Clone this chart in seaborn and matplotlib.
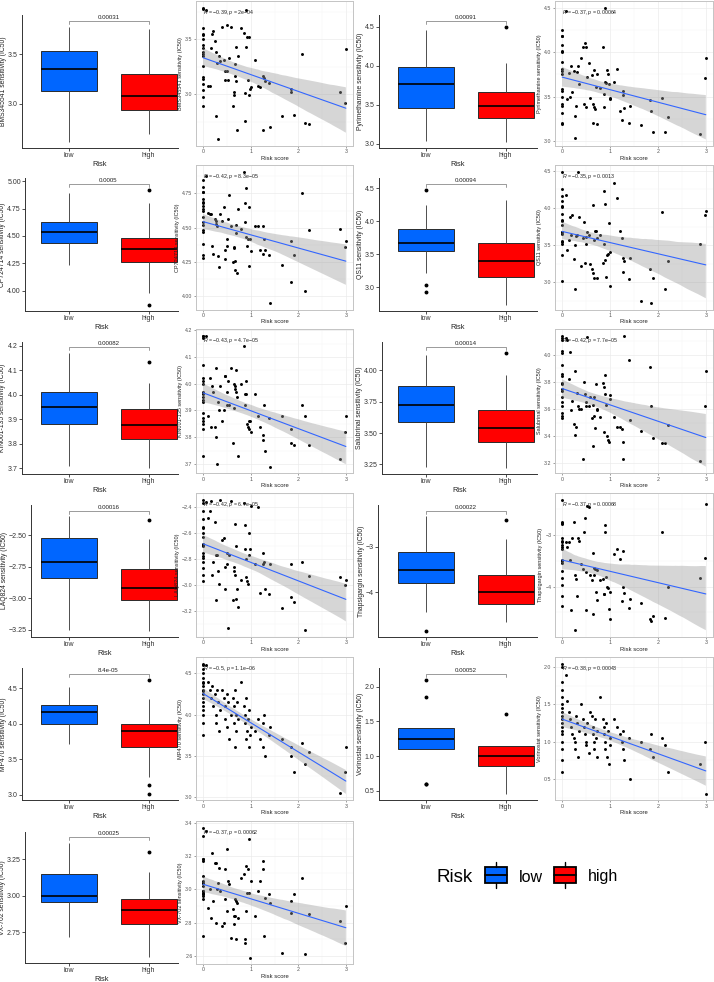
import numpy as np
import pandas as pd
import matplotlib
matplotlib.use("Agg")
import matplotlib.pyplot as plt
import seaborn as sns
from matplotlib.ticker import AutoMinorLocator
from matplotlib.patches import Rectangle
from matplotlib.collections import PolyCollection

sns.set_theme(style="white")
plt.rcParams["font.family"] = ["Liberation Sans", "DejaVu Sans"]
plt.rcParams["mathtext.fontset"] = "custom"
plt.rcParams["mathtext.rm"] = "Liberation Sans"
plt.rcParams["mathtext.it"] = "Liberation Sans:italic"

# ---------------- data ----------------
drugs = ["BMS345541", "Pyrimethamine", "CP724714", "QS11", "KIN001-135", "Salubrinal",
         "LAQ824", "Thapsigargin", "MP470", "Vorinostat", "VX-702"]
box_pvals = ["0.00031", "0.00091", "0.0005", "0.00094", "0.00082", "0.00014",
             "0.00016", "0.00022", "8.4e-05", "0.00052", "0.00025"]
cor_r = ["-0.39", "-0.37", "-0.42", "-0.35", "-0.43", "-0.42", "-0.42", "-0.37", "-0.5", "-0.38", "-0.37"]
cor_p = ["2e-04", "0.00064", "8.3e-05", "0.0013", "4.7e-05", "7.7e-05", "6.7e-05", "0.00068",
         "1.1e-06", "0.00043", "0.00062"]

# box summaries: (lower whisker, Q1, median, Q3, upper whisker) and outliers
low_box = {
    "BMS345541": (2.61, 3.13, 3.35, 3.53, 3.78),
    "Pyrimethamine": (3.03, 3.46, 3.77, 3.98, 4.46),
    "CP724714": (4.24, 4.44, 4.54, 4.63, 4.89),
    "QS11": (3.215, 3.54, 3.665, 3.875, 4.25),
    "KIN001-135": (3.71, 3.88, 3.95, 4.01, 4.17),
    "Salubrinal": (3.23, 3.59, 3.72, 3.87, 4.12),
    "LAQ824": (-3.25, -2.84, -2.71, -2.52, -2.35),
    "Thapsigargin": (-4.43, -3.79, -3.50, -3.11, -2.33),
    "MP470": (3.72, 4.00, 4.17, 4.26, 4.51),
    "Vorinostat": (0.60, 1.10, 1.25, 1.40, 1.85),
    "VX-702": (2.72, 2.96, 3.00, 3.15, 3.36),
}
low_out = {
    "QS11": [2.925, 3.025, 4.475],
    "Thapsigargin": [-4.86],
    "Vorinostat": [2.10],
}
high_box = {
    "BMS345541": (2.69, 2.94, 3.08, 3.30, 3.76),
    "Pyrimethamine": (3.02, 3.33, 3.48, 3.66, 4.04),
    "CP724714": (3.98, 4.26, 4.38, 4.48, 4.80),
    "QS11": (2.725, 3.15, 3.39, 3.675, 4.325),
    "KIN001-135": (3.70, 3.82, 3.875, 3.94, 4.05),
    "Salubrinal": (3.22, 3.43, 3.54, 3.68, 3.96),
    "LAQ824": (-3.26, -3.01, -2.92, -2.77, -2.53),
    "Thapsigargin": (-4.66, -4.26, -3.99, -3.62, -2.83),
    "MP470": (3.25, 3.68, 3.90, 4.00, 4.35),
    "Vorinostat": (0.45, 0.85, 1.00, 1.15, 1.60),
    "VX-702": (2.58, 2.81, 2.905, 2.98, 3.165),
}
high_out = {
    "Pyrimethamine": [4.50],
    "CP724714": [3.87, 4.92],
    "KIN001-135": [4.135],
    "Salubrinal": [4.135],
    "LAQ824": [-2.38],
    "Thapsigargin": [-2.41],
    "MP470": [3.01, 3.14, 4.62],
    "VX-702": [3.30],
}

box_yticks = {
    "BMS345541": ["3.0", "3.5"],
    "Pyrimethamine": ["3.0", "3.5", "4.0", "4.5"],
    "CP724714": ["4.00", "4.25", "4.50", "4.75", "5.00"],
    "QS11": ["3.0", "3.5", "4.0", "4.5"],
    "KIN001-135": ["3.7", "3.8", "3.9", "4.0", "4.1", "4.2"],
    "Salubrinal": ["3.25", "3.50", "3.75", "4.00"],
    "LAQ824": ["-3.25", "-3.00", "-2.75", "-2.50"],
    "Thapsigargin": ["-4", "-3"],
    "MP470": ["3.0", "3.5", "4.0", "4.5"],
    "Vorinostat": ["0.5", "1.0", "1.5", "2.0"],
    "VX-702": ["2.75", "3.00", "3.25"],
}
scatter_yticks = {
    "BMS345541": ["3.0", "3.5"],
    "Pyrimethamine": ["3.0", "3.5", "4.0", "4.5"],
    "CP724714": ["4.00", "4.25", "4.50", "4.75"],
    "QS11": ["3.0", "3.5", "4.0", "4.5"],
    "KIN001-135": ["3.7", "3.8", "3.9", "4.0", "4.1", "4.2"],
    "Salubrinal": ["3.2", "3.4", "3.6", "3.8", "4.0"],
    "LAQ824": ["-3.2", "-3.0", "-2.8", "-2.6", "-2.4"],
    "Thapsigargin": ["-4", "-3"],
    "MP470": ["3.0", "3.5", "4.0", "4.5"],
    "Vorinostat": ["0.5", "1.0", "1.5", "2.0"],
    "VX-702": ["2.6", "2.8", "3.0", "3.2", "3.4"],
}

risk_score = [0, 0, 0, 0, 0, 0, 0, 0, 0, 0, 0, 0, 0, 0, 0, 0, 0, 0,
              0.07, 0.10, 0.14, 0.17, 0.19, 0.20, 0.24, 0.26, 0.27, 0.29, 0.31, 0.33, 0.35,
              0.40, 0.43, 0.45, 0.47, 0.50, 0.50, 0.52, 0.55, 0.58,
              0.62, 0.64, 0.65, 0.66, 0.67, 0.69, 0.70, 0.72, 0.73,
              0.80, 0.86, 0.87, 0.88, 0.90, 0.90, 0.92, 0.94, 0.96, 0.97, 0.99, 1.00,
              1.09, 1.15, 1.20, 1.25, 1.26, 1.28, 1.30, 1.39, 1.41,
              1.65, 1.84, 1.85, 1.90,
              2.08, 2.15, 2.22,
              2.88, 2.99, 3.00]

ic50 = {
    "BMS345541": [3.79, 3.78, 3.60, 3.55, 3.54, 3.50, 3.45, 3.42, 3.39, 3.37, 3.35, 3.26, 3.16, 3.14, 3.09, 3.04, 2.98, 2.89,
                  3.77, 3.08, 3.08, 3.42, 3.55, 3.58, 3.49, 2.80, 3.39, 3.29, 2.59, 3.35, 3.30,
                  3.61, 3.31, 3.21, 3.13, 3.21, 3.63, 3.13, 3.33, 3.61,
                  2.89, 3.02, 2.99, 3.17, 3.28, 3.12, 3.43, 2.68, 3.35,
                  3.60, 3.56, 3.01, 2.76, 3.43, 3.77, 3.52, 3.13, 3.52, 2.99, 3.05, 3.07,
                  3.31, 3.08, 3.07, 2.68, 3.17, 3.15, 3.12, 3.10, 2.70,
                  2.80, 3.05, 3.02, 2.81,
                  3.37, 2.74, 2.73,
                  3.02, 2.92, 3.41],
    "Pyrimethamine": [4.25, 4.18, 4.18, 4.08, 4.01, 4.00, 3.89, 3.81, 3.79, 3.75, 3.59, 3.57, 3.50, 3.42, 3.40, 3.32, 3.21, 3.20,
                      4.46, 3.47, 3.77, 3.50, 3.84, 3.55, 3.79, 3.04, 3.29, 3.40, 3.78, 3.85, 3.64,
                      3.93, 4.06, 3.42, 4.10, 4.06, 3.39, 3.72, 3.88, 3.49,
                      3.74, 3.21, 3.42, 3.39, 3.80, 3.36, 3.61, 3.75, 3.20,
                      3.60, 4.06, 3.39, 3.53, 4.50, 3.67, 3.65, 3.80, 3.75, 3.64, 3.49, 3.48,
                      3.67, 3.81, 3.34, 3.24, 3.56, 3.52, 3.37, 3.21, 3.40,
                      3.18, 3.46, 3.34, 3.11,
                      3.49, 3.11, 3.27,
                      3.08, 3.71, 3.94],
    "CP724714": [4.85, 4.80, 4.76, 4.76, 4.71, 4.69, 4.68, 4.66, 4.64, 4.62, 4.58, 4.54, 4.52, 4.48, 4.47, 4.38, 4.30, 4.28,
                 4.88, 4.61, 4.60, 4.60, 4.37, 4.31, 4.56, 4.55, 4.53, 4.51, 4.29, 4.21, 4.60,
                 4.55, 4.65, 4.27, 4.34, 4.42, 4.37, 4.56, 4.74, 4.51,
                 4.25, 4.36, 4.35, 4.26, 4.19, 4.52, 4.46, 4.17, 4.64,
                 4.49, 4.91, 4.54, 4.68, 4.43, 4.79, 4.37, 4.42, 4.65, 4.22, 4.42, 4.33,
                 4.51, 4.51, 4.34, 4.31, 4.51, 4.42, 4.34, 4.30, 3.95,
                 4.23, 4.10, 4.40, 4.30,
                 4.75, 4.04, 4.48,
                 4.49, 4.36, 4.40],
    "QS11": [4.49, 4.26, 4.16, 4.09, 4.02, 4.01, 3.84, 3.82, 3.68, 3.67, 3.65, 3.56, 3.54, 3.37, 3.01, 3.92, 3.77, 3.52,
             4.17, 3.44, 3.57, 3.88, 3.64, 3.90, 3.31, 3.50, 2.91, 3.62, 3.64, 4.49, 3.88,
             3.22, 3.60, 3.81, 3.26, 3.61, 3.52, 3.68, 3.63, 3.25,
             3.18, 4.04, 3.13, 3.06, 3.57, 3.69, 3.69, 3.06, 3.59,
             3.63, 3.26, 4.23, 3.51, 3.30, 4.05, 3.07, 3.37, 3.38, 3.80, 3.41, 2.95,
             4.33, 4.14, 3.69, 3.60, 3.14, 3.32, 3.29, 3.04, 3.32,
             2.75, 3.18, 2.72, 3.06,
             3.94, 2.91, 3.29,
             3.51, 3.91, 3.96],
    "KIN001-135": [4.18, 4.18, 4.17, 4.07, 4.02, 4.01, 4.00, 3.97, 3.96, 3.95, 3.94, 3.93, 3.89, 3.87, 3.86, 3.85, 3.83, 3.73,
                   4.18, 3.88, 4.02, 3.84, 3.99, 3.97, 3.84, 4.06, 3.80, 3.70, 3.93, 3.90, 3.99,
                   3.86, 3.90, 4.03, 4.03, 3.92, 3.97, 4.01, 3.92, 4.06,
                   3.78, 4.00, 3.91, 3.98, 3.99, 3.97, 4.05, 3.95, 3.73,
                   4.00, 4.14, 3.96, 3.92, 4.01, 3.96, 3.85, 3.84, 3.86, 3.83, 3.86, 3.82,
                   3.96, 3.88, 3.84, 3.81, 3.79, 3.92, 3.75, 3.87, 3.69,
                   3.88, 3.83, 3.78, 3.77,
                   3.92, 3.88, 3.77,
                   3.72, 3.82, 3.88],
    "Salubrinal": [4.14, 4.12, 4.11, 4.03, 4.01, 3.92, 3.86, 3.84, 3.79, 3.78, 3.75, 3.73, 3.69, 3.65, 3.62, 3.57, 3.55, 3.53,
                   4.12, 4.11, 3.82, 4.02, 3.59, 3.66, 3.49, 3.88, 3.41, 3.47, 3.72, 3.62, 3.60,
                   3.60, 3.23, 3.80, 3.71, 3.65, 3.62, 4.13, 3.62, 3.69,
                   3.53, 3.63, 3.33, 3.55, 3.69, 3.46, 3.78, 3.60, 3.59,
                   3.54, 3.79, 3.76, 3.43, 3.71, 3.85, 3.63, 3.40, 3.37, 3.36, 3.67, 3.70,
                   3.54, 3.47, 3.47, 3.45, 3.36, 3.23, 4.14, 3.96, 3.52,
                   3.44, 3.91, 3.62, 3.39,
                   3.35, 3.35, 3.48,
                   3.22, 3.62, 3.88],
    "LAQ824": [-2.37, -2.43, -2.49, -2.55, -2.56, -2.60, -2.63, -2.68, -2.69, -2.70, -2.75, -2.78, -2.79, -2.82, -2.87, -2.92, -2.97, -2.34,
               -2.36, -2.48, -2.43, -2.35, -2.92, -2.82, -2.51, -2.77, -3.12, -2.77, -2.89, -2.99, -2.34,
               -2.65, -2.64, -3.03, -2.86, -2.84, -2.75, -3.33, -2.77, -2.35,
               -3.12, -2.86, -2.89, -2.53, -2.92, -3.11, -2.70, -3.03, -3.17,
               -2.96, -2.37, -2.54, -2.72, -2.94, -2.80, -2.97, -2.99, -2.60, -2.77, -2.72, -2.39,
               -2.84, -2.40, -3.06, -2.75, -2.84, -2.82, -3.03, -3.07, -2.84,
               -3.18, -2.84, -3.09, -3.13,
               -2.82, -3.35, -2.93,
               -2.94, -3.00, -2.96],
    "Thapsigargin": [-2.31, -2.75, -2.77, -3.06, -3.11, -3.20, -3.24, -3.27, -3.48, -3.51, -3.54, -3.70, -3.83, -3.97, -4.18, -4.37, -2.78, -3.13,
                     -3.13, -3.24, -3.14, -3.48, -4.45, -3.06, -2.75, -4.85, -3.78, -3.85, -4.18, -3.06, -3.11,
                     -3.56, -3.66, -2.94, -2.67, -4.45, -3.72, -2.44, -2.46, -3.78,
                     -3.88, -4.53, -3.35, -3.64, -3.78, -3.66, -4.10, -4.27, -3.67,
                     -3.88, -3.86, -4.15, -4.15, -2.81, -2.94, -3.82, -4.01, -4.03, -4.44, -4.10, -4.64,
                     -3.37, -3.27, -3.46, -4.29, -3.31, -4.01, -4.12, -4.41, -4.24,
                     -4.32, -4.64, -4.67, -4.57,
                     -2.94, -4.61, -4.01,
                     -3.83, -3.45, -2.40],
    "MP470": [4.62, 4.60, 4.55, 4.50, 4.45, 4.40, 4.38, 4.35, 4.30, 4.28, 4.25, 4.20, 4.15, 4.10, 4.05, 4.00, 3.90, 3.75,
              4.60, 4.40, 4.30, 4.20, 4.35, 4.10, 4.25, 4.00, 3.90, 4.30, 4.15, 3.80, 4.05,
              4.30, 4.20, 4.10, 3.95, 4.25, 3.85, 4.15, 3.70, 4.00,
              4.20, 4.10, 3.90, 4.30, 3.60, 4.00, 3.80, 4.15, 3.95,
              4.40, 4.10, 4.00, 3.90, 3.70, 4.20, 3.80, 3.95, 3.60, 4.05, 3.75, 3.85,
              3.80, 3.95, 3.70, 3.60, 3.90, 4.00, 3.50, 3.75, 3.85,
              3.70, 3.50, 3.60, 3.30,
              3.65, 3.40, 3.55,
              3.05, 3.30, 3.60],
    "Vorinostat": [2.05, 2.00, 1.80, 1.70, 1.60, 1.50, 1.45, 1.40, 1.35, 1.30, 1.25, 1.20, 1.15, 1.10, 1.00, 0.90, 0.75, 0.60,
                   1.90, 1.55, 1.40, 1.30, 1.20, 1.10, 1.05, 1.00, 0.90, 1.35, 1.25, 0.80, 1.15,
                   1.50, 1.30, 1.20, 1.10, 1.00, 0.95, 1.25, 0.85, 1.40,
                   1.35, 1.20, 1.10, 1.00, 0.90, 1.30, 1.05, 0.80, 1.15,
                   1.60, 1.30, 1.20, 1.10, 1.00, 0.90, 1.25, 0.80, 1.15, 0.70, 1.05, 0.95,
                   1.30, 1.20, 1.10, 1.00, 0.90, 1.15, 0.75, 1.05, 0.50,
                   1.00, 0.90, 1.10, 0.80,
                   1.05, 0.95, 0.60,
                   0.70, 1.00, 0.30],
    "VX-702": [3.37, 3.32, 3.18, 3.18, 3.17, 3.08, 3.05, 3.04, 3.04, 2.99, 2.99, 2.98, 2.97, 2.97, 2.96, 2.94, 2.72, 3.02,
               3.35, 2.89, 3.00, 2.83, 3.22, 2.93, 3.16, 3.16, 2.80, 3.00, 3.04, 3.13, 2.99,
               2.78, 2.80, 2.94, 3.12, 3.24, 2.87, 3.05, 3.03, 2.71,
               2.88, 2.84, 2.79, 2.94, 2.84, 2.93, 2.70, 2.92, 2.83,
               3.07, 3.09, 2.70, 2.68, 3.14, 2.87, 2.98, 3.12, 2.98, 3.30, 2.59, 3.05,
               2.84, 2.99, 3.05, 3.12, 3.17, 2.72, 2.95, 2.97, 2.92,
               2.62, 2.93, 2.86, 2.97,
               3.07, 2.61, 2.85,
               2.81, 2.68, 2.90],
}

risk_levels = ["low", "high"]
risk_colors = {"low": "#0066FF", "high": "#FF0000"}

# ---------------- layout ----------------
W, H = 714, 982
fig = plt.figure(figsize=(W / 100, H / 100), dpi=100)


def place(l, t, r, b):
    return fig.add_axes([l / W, 1 - b / H, (r - l) / W, (b - t) / H])


def minus(s):
    return s.replace("-", "\u2212")


def group_values(stats, outs):
    wlo, q1, med, q3, whi = stats
    lo = sorted(o for o in outs if o < q1)
    hi = sorted(o for o in outs if o > q3)
    m = max(len(lo), len(hi)) + 1
    below = lo + [wlo] * (m - len(lo))
    above = [whi] * (m - len(hi)) + hi
    return below + [q1] * m + [med] + [q3] * m + above


box_cols = [(22, 178), (379, 537)]
sc_cols = [(196, 353), (555, 713)]

for i, drug in enumerate(drugs):
    row, col = divmod(i, 2)
    label = f"{drug} sensitivity (IC50)"

    # ---------- box plot ----------
    bl, br = box_cols[col]
    yt = box_yticks[drug]
    nchar = max(len(t) for t in yt)
    has_minus = any(t.startswith("-") for t in yt)
    bl = bl + 3.3 * (nchar - 3) + (2.5 if has_minus else 0)   # wider tick labels push the panel right
    axb = place(bl, 15 + 163.3 * row, br, 148 + 163.0 * row)
    lv = group_values(low_box[drug], low_out.get(drug, []))
    hv = group_values(high_box[drug], high_out.get(drug, []))
    df = pd.DataFrame({"Risk": ["low"] * len(lv) + ["high"] * len(hv), "val": lv + hv})
    sns.boxplot(data=df, x="Risk", y="val", hue="Risk", order=risk_levels, hue_order=risk_levels,
                palette=risk_colors, saturation=1, width=0.7, dodge=False, legend=False,
                linecolor="#2b2b2b", linewidth=0.7, whis=1.5, showcaps=False,
                medianprops=dict(color="black", linewidth=1.2),
                whiskerprops=dict(color="#4d4d4d", linewidth=0.7),
                flierprops=dict(marker="o", markerfacecolor="black", markeredgecolor="black",
                                markersize=1.8),
                ax=axb)
    allv = lv + hv
    vmin, vmax = min(allv), max(allv)
    rng = vmax - vmin
    # keep box centres at the same pixel positions whatever the panel's left edge
    pxu = 80.0
    c0 = box_cols[col][0] + 46.5
    axb.set_xlim(-(c0 - bl) / pxu, (br - c0) / pxu)
    axb.set_ylim(vmin - 0.05 * rng, vmax + 0.1 * rng)
    yb = vmax + 0.05 * rng
    axb.plot([0, 0, 1, 1], [yb - 0.025 * rng, yb, yb, yb - 0.025 * rng], color="#8a8a8a", lw=0.6)
    axb.text(0.5, yb + 0.008 * rng, box_pvals[i], ha="center", va="bottom", fontsize=4.4, color="#222222")
    axb.set_yticks([float(t) for t in yt], [minus(t) for t in yt])
    axb.set_xlabel("Risk", fontsize=5.3, labelpad=1.0, color="#222222")
    axb.set_ylabel(label, fontsize=4.9, labelpad=0.8, color="#222222")
    for s in ["top", "right"]:
        axb.spines[s].set_visible(False)
    for s in ["left", "bottom"]:
        axb.spines[s].set_color("#333333")
        axb.spines[s].set_linewidth(0.7)
    axb.tick_params(axis="both", labelsize=5.0, length=2.0, width=0.6, pad=1.2,
                    colors="#333333", direction="out", left=True, bottom=True)
    axb.grid(False)

    # ---------- scatter + regression ----------
    sl, sr = sc_cols[col]
    axs = place(sl, 1 + 164.0 * row, sr, 146 + 163.6 * row)
    axs.set_facecolor("white")
    y = ic50[drug]
    sns.regplot(x=risk_score, y=y, ax=axs, color="black", ci=95, seed=1,
                scatter_kws=dict(s=4.5, linewidths=0, alpha=1, zorder=2),
                line_kws=dict(color="#3366FF", lw=0.8, zorder=4))
    for c in axs.collections:
        if isinstance(c, PolyCollection):
            c.set_facecolor("#999999")
            c.set_alpha(0.4)
            c.set_edgecolor("none")
            c.set_zorder(3)
    st = scatter_yticks[drug]
    axs.set_yticks([float(t) for t in st], [minus(t) for t in st])
    axs.set_xticks([0, 1, 2, 3], ["0", "1", "2", "3"])
    axs.xaxis.set_minor_locator(AutoMinorLocator(2))
    axs.yaxis.set_minor_locator(AutoMinorLocator(2))
    axs.grid(True, which="major", color="#ebebeb", lw=0.5)
    axs.grid(True, which="minor", color="#f3f3f3", lw=0.3)
    axs.set_axisbelow(True)
    for s in axs.spines.values():
        s.set_visible(True)
        s.set_color("#c4c4c4")
        s.set_linewidth(0.7)
    axs.tick_params(axis="both", which="major", labelsize=3.8, length=1.5, width=0.4, pad=1,
                    colors="#555555", left=True, bottom=True)
    axs.tick_params(axis="both", which="minor", length=0)
    axs.set_xlabel("Risk score", fontsize=4.2, labelpad=1, color="#222222")
    axs.set_ylabel(label, fontsize=4.0, labelpad=1.5, color="#222222")
    rtxt = r"$\mathit{R}$ = " + minus(cor_r[i]) + r", $\mathit{p}$ = " + minus(cor_p[i])
    axs.text(min(risk_score), max(y), rtxt, ha="left", va="top", fontsize=3.8, color="#222222", zorder=5)

# ---------------- legend ----------------
axl = fig.add_axes([0, 0, 1, 1])
axl.set_xlim(0, W)
axl.set_ylim(H, 0)
axl.axis("off")
axl.text(437, 877, "Risk", fontsize=13.5, va="center", ha="left", color="black")
for lvl, x0, tx in [("low", 485, 519), ("high", 554, 588)]:
    axl.add_patch(Rectangle((x0, 867), 22, 16, facecolor=risk_colors[lvl], edgecolor="black", lw=1.3))
    axl.plot([x0, x0 + 22], [875, 875], color="black", lw=1.3)
    axl.plot([x0 + 11, x0 + 11], [862, 867], color="black", lw=1.0)
    axl.plot([x0 + 11, x0 + 11], [883, 888], color="black", lw=1.0)
    axl.text(tx, 877, lvl, fontsize=11.5, va="center", ha="left", color="black")

fig.savefig("out.png", dpi=100, facecolor="white")
